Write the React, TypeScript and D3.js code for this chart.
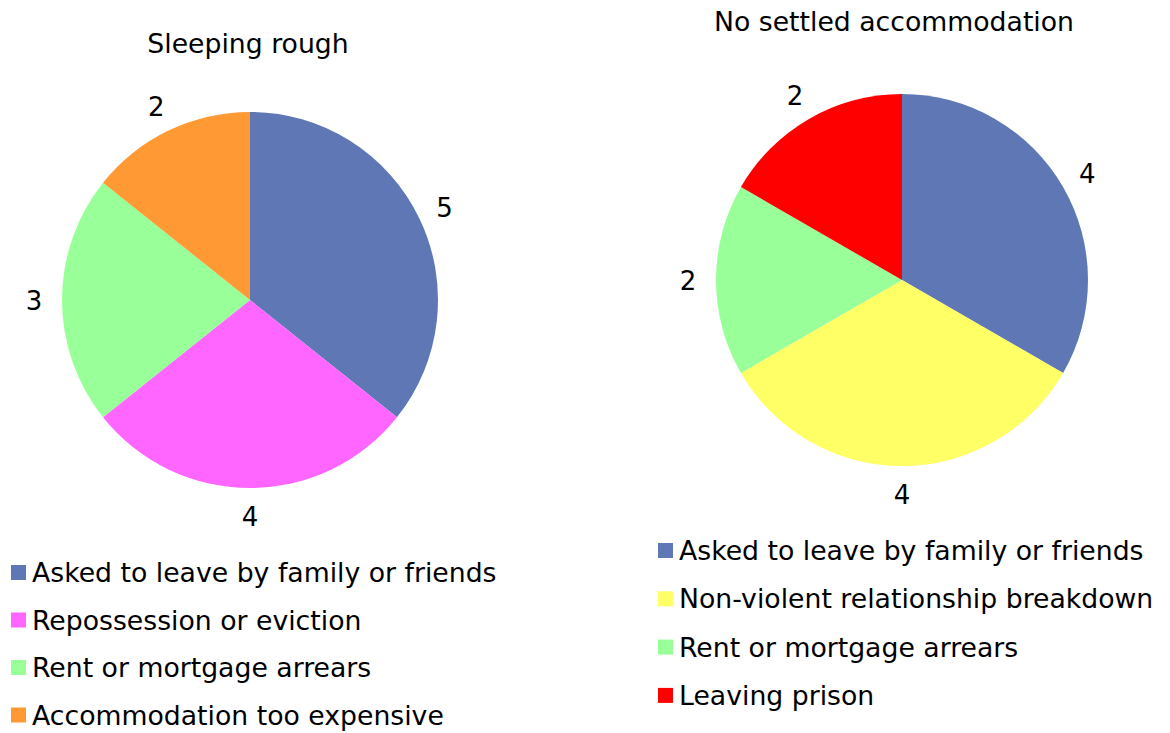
import React, { useEffect, useRef } from "react";
import * as d3 from "d3";

const roughCategories = [
  "Asked to leave by family or friends",
  "Repossession or eviction",
  "Rent or mortgage arrears",
  "Accommodation too expensive",
];
const roughValues = [5, 4, 3, 2];
const roughColors = ["#5F77B5", "#FF66FF", "#99FF99", "#FF9933"];

const settledCategories = [
  "Asked to leave by family or friends",
  "Non-violent relationship breakdown",
  "Rent or mortgage arrears",
  "Leaving prison",
];
const settledValues = [4, 4, 2, 2];
const settledColors = ["#5F77B5", "#FFFF66", "#99FF99", "#FF0000"];

const FONT = "'DejaVu Sans', Verdana, sans-serif";

export default function App() {
  const svgRef = useRef<SVGSVGElement>(null);

  useEffect(() => {
    const svg = d3.select(svgRef.current);
    svg.selectAll("*").remove();

    const charts = [
      {
        title: "Sleeping rough",
        titleX: 248,
        titleY: 53,
        cx: 250,
        cy: 300,
        r: 188,
        cats: roughCategories,
        vals: roughValues,
        colors: roughColors,
        legX: 11,
        legY: 565,
        legStep: 47.5,
      },
      {
        title: "No settled accommodation",
        titleX: 894,
        titleY: 31,
        cx: 902,
        cy: 280,
        r: 186,
        cats: settledCategories,
        vals: settledValues,
        colors: settledColors,
        legX: 658,
        legY: 543,
        legStep: 48.3,
      },
    ];

    const pie = d3.pie<number>().sort(null).value((d) => d);

    charts.forEach((c) => {
      const g = svg.append("g").attr("transform", `translate(${c.cx},${c.cy})`);
      const arc = d3.arc<d3.PieArcDatum<number>>().innerRadius(0).outerRadius(c.r);
      const labelArc = d3
        .arc<d3.PieArcDatum<number>>()
        .innerRadius(c.r + 28)
        .outerRadius(c.r + 28);
      const arcs = pie(c.vals);

      // slices
      g.selectAll("path")
        .data(arcs)
        .join("path")
        .attr("d", arc)
        .attr("fill", (_, i) => c.colors[i]);

      // value labels
      g.selectAll("text.val")
        .data(arcs)
        .join("text")
        .attr("class", "val")
        .attr("transform", (d) => `translate(${labelArc.centroid(d)})`)
        .attr("text-anchor", "middle")
        .attr("dy", "0.4em")
        .style("font-family", FONT)
        .style("font-size", "26px")
        .style("fill", "#000")
        .text((d) => d.data);

      // title
      svg
        .append("text")
        .attr("x", c.titleX)
        .attr("y", c.titleY)
        .attr("text-anchor", "middle")
        .style("font-family", FONT)
        .style("font-size", "26.7px")
        .style("fill", "#000")
        .text(c.title);

      // legend
      const leg = svg.append("g");
      c.cats.forEach((name, i) => {
        const y = c.legY + i * c.legStep;
        leg
          .append("rect")
          .attr("x", c.legX)
          .attr("y", y)
          .attr("width", 15)
          .attr("height", 15)
          .attr("fill", c.colors[i]);
        leg
          .append("text")
          .attr("x", c.legX + 21)
          .attr("y", y + 17)
          .style("font-family", FONT)
          .style("font-size", "26.7px")
          .style("fill", "#000")
          .text(name);
      });
    });
  }, []);

  return (
    <svg
      ref={svgRef}
      width="1170"
      height="733"
      style={{ position: "absolute", top: 0, left: 0, background: "#fff" }}
    ></svg>
  );
}
